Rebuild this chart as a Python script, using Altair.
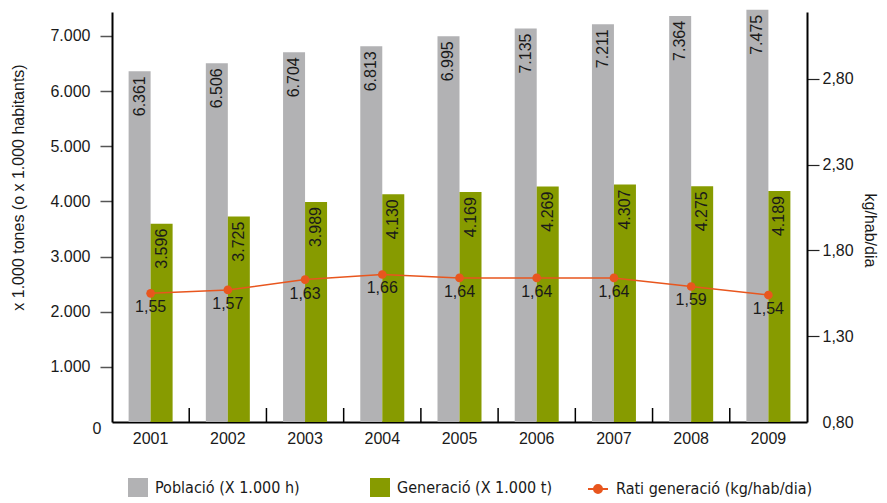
import altair as alt
import pandas as pd

years = ["2001", "2002", "2003", "2004", "2005", "2006", "2007", "2008", "2009"]
poblacio = [6361, 6506, 6704, 6813, 6995, 7135, 7211, 7364, 7475]
generacio = [3596, 3725, 3989, 4130, 4169, 4269, 4307, 4275, 4189]
rati = [1.55, 1.57, 1.63, 1.66, 1.64, 1.64, 1.64, 1.59, 1.54]
series_names = ["Població (X 1.000 h)", "Generació (X 1.000 t)"]
rati_name = "Rati generació (kg/hab/dia)"
left_ticks = [0, 1000, 2000, 3000, 4000, 5000, 6000, 7000]
right_ticks = [0.8, 1.3, 1.8, 2.3, 2.8]
left_title = "x 1.000 tones (o x 1.000 habitants)"
right_title = "kg/hab/dia"

GRAY = "#b2b2b4"
GREEN = "#879b00"
ORANGE = "#e8561e"
TEXT = "#1a1a1a"
FONT = "Arial, Liberation Sans, Helvetica, sans-serif"
LEG_FONT = "Liberation Sans Narrow, Arial Narrow, DejaVu Sans Condensed, Arial, sans-serif"

bars_df = pd.DataFrame({
    "year": years * 2,
    "series": [series_names[0]] * len(years) + [series_names[1]] * len(years),
    "value": poblacio + generacio,
})
rati_df = pd.DataFrame({"year": years, "rati": rati, "name": [rati_name] * len(years)})
bounds_df = pd.DataFrame({"year": years[1:]})

x_scale = alt.Scale(domain=years, paddingInner=0, paddingOuter=0)
x_axis = alt.Axis(ticks=False, labelPadding=8, labelFontSize=16, labelAngle=0,
                  domainColor="black", domainWidth=2, title=None)
x_enc = alt.X("year:N", scale=x_scale, axis=x_axis)
xoff = alt.XOffset("series:N", scale=alt.Scale(domain=series_names, paddingInner=0, paddingOuter=0.755))

y_left = alt.Y(
    "value:Q",
    scale=alt.Scale(domain=[0, 7435], nice=False, zero=True),
    axis=alt.Axis(
        values=left_ticks,
        labelExpr="replace(format(datum.value, ',d'), ',', '.')",
        grid=False, tickSize=12, tickWidth=1.5,
        tickColor={"condition": {"test": "datum.value == 0", "value": "transparent"}, "value": "#555555"},
        labelPadding={"condition": {"test": "datum.value == 0", "value": -1}, "value": 10},
        labelOffset={"condition": {"test": "datum.value == 0", "value": 6}, "value": 0},
        labelFontSize=16, domainColor="black", domainWidth=2,
        title=left_title, titleFontSize=16, titleFontWeight="normal",
        titleX=-94, titleY=175, titleAngle=270, titleAlign="center", titleBaseline="middle",
    ),
)

leg_common = dict(orient="none", title=None, padding=0, labelFontSize=16, labelFont=LEG_FONT,
                  labelColor=TEXT, labelOffset=7, labelLimit=300)

gray_bars = alt.Chart(bars_df).transform_filter(
    alt.datum.series == series_names[0]
).mark_bar().encode(
    x=x_enc, xOffset=xoff, y=y_left,
    fill=alt.Fill("series:N", scale=alt.Scale(domain=[series_names[0]], range=[GRAY]),
                  legend=alt.Legend(legendX=16, legendY=466, symbolType="square", symbolSize=400,
                                    symbolStrokeWidth=0, **leg_common)),
)

green_bars = alt.Chart(bars_df).transform_filter(
    alt.datum.series == series_names[1]
).mark_bar().encode(
    x=x_enc, xOffset=xoff, y=y_left,
    color=alt.Color("series:N", scale=alt.Scale(domain=[series_names[1]], range=[GREEN]),
                    legend=alt.Legend(legendX=258, legendY=466, symbolType="square", symbolSize=400,
                                      symbolStrokeWidth=0, **leg_common)),
)

bar_labels = alt.Chart(bars_df).transform_calculate(
    label="replace(format(datum.value, ',d'), ',', '.')"
).mark_text(angle=270, align="right", baseline="middle", dx=-5, fontSize=16, font=FONT, color=TEXT).encode(
    x=x_enc, xOffset=xoff, y=y_left, text="label:N",
)

bounds = alt.Chart(bounds_df).mark_rule(color="black", strokeWidth=1.5).encode(
    x=alt.X("year:N", scale=x_scale, axis=x_axis, bandPosition=0),
    y=alt.value(396), y2=alt.value(410),
)

left = alt.layer(gray_bars, green_bars, bar_labels, bounds)

y_right = alt.Y(
    "rati:Q",
    scale=alt.Scale(domain=[0.8, 3.19], nice=False, zero=False),
    axis=alt.Axis(
        orient="right", values=right_ticks,
        labelExpr="replace(format(datum.value, '.2f'), '.', ',')",
        grid=False, tickSize=12, tickWidth=1.2,
        tickColor={"condition": {"test": "datum.value < 0.9", "value": "transparent"}, "value": "#222222"},
        labelPadding=3, labelFontSize=16, domainColor="black", domainWidth=2,
        title=right_title, titleFontSize=16, titleFontWeight="normal",
        titleX=62, titleY=218, titleAngle=90, titleAlign="center", titleBaseline="middle",
    ),
)

line = alt.Chart(rati_df).mark_line(strokeWidth=1.5).encode(
    x=x_enc, y=y_right,
    stroke=alt.Stroke("name:N", scale=alt.Scale(domain=[rati_name], range=[ORANGE]),
                      legend=alt.Legend(legendX=475, legendY=466,
                                        symbolType="M-1,0H1M-0.4,0A0.4,0.4 0 1,1 0.4,0A0.4,0.4 0 1,1 -0.4,0Z",
                                        symbolSize=400, symbolStrokeWidth=2,
                                        symbolFillColor=ORANGE, symbolStrokeColor=ORANGE, **leg_common)),
)
points = alt.Chart(rati_df).mark_circle(size=75, color=ORANGE, opacity=1).encode(x=x_enc, y=y_right)
line_labels = alt.Chart(rati_df).transform_calculate(
    label="replace(format(datum.rati, '.2f'), '.', ',')"
).mark_text(dy=14, fontSize=16, font=FONT, color=TEXT, baseline="middle").encode(
    x=x_enc, y=y_right, text="label:N",
)

right = alt.layer(line, points, line_labels)

chart = alt.layer(left, right).resolve_scale(y="independent").properties(
    width=695, height=410,
    padding={"left": 104, "top": 4, "right": 72, "bottom": 75},
    autosize=alt.AutoSizeParams(type="none"),
).configure_view(stroke=None).configure_axis(
    labelColor=TEXT, titleColor=TEXT, labelFont=FONT, titleFont=FONT,
)

chart.save("out.html", embed_options={"renderer": "svg", "actions": False})
